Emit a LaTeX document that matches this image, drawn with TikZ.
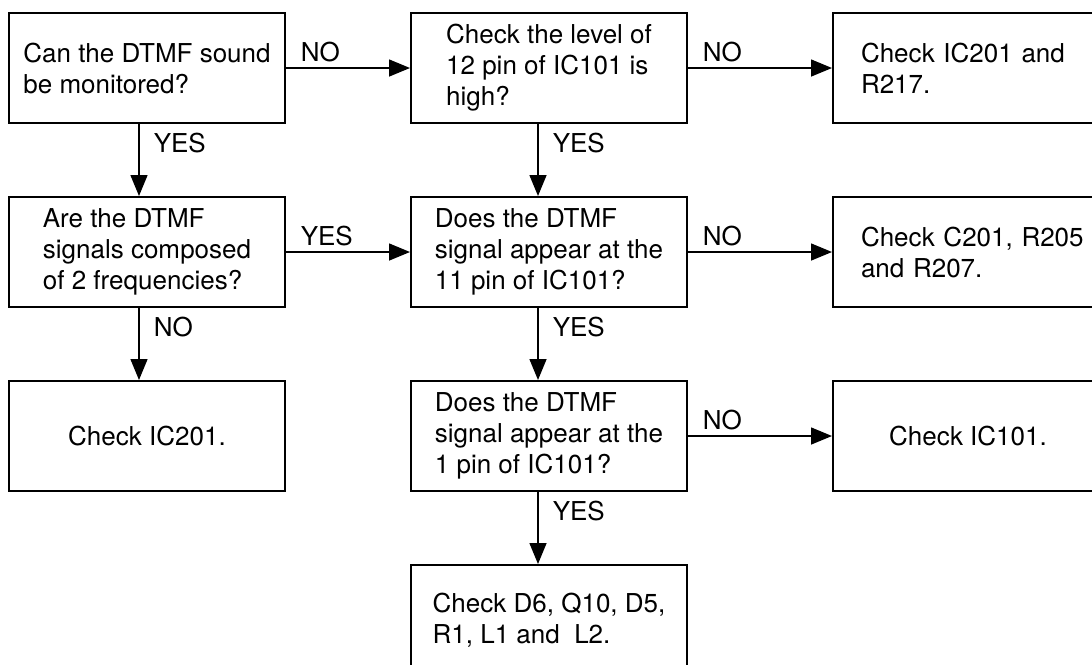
\documentclass[tikz,border=0pt]{standalone}
\usepackage{fontspec}
\setmainfont{TeX Gyre Heros}
\usetikzlibrary{positioning, arrows.meta}

\begin{document}
\begin{tikzpicture}[node distance=28.8pt]
	% Node style
	\tikzstyle{block} = [rectangle, draw=black, line width=0.8pt, minimum width=110.4pt, minimum height=44pt, align=left, font=\fontsize{10.4pt}{12.4pt}\selectfont]
	\tikzstyle{wideblock} = [block, text width=96pt, inner xsep=11.2pt]
	\tikzstyle{flow} = [-{Triangle[length=8.4pt, width=6.8pt]}, line width=0.6pt]
	\tikzstyle{lbl} = [font=\fontsize{10.4pt}{12.4pt}\selectfont, inner xsep=5.6pt, inner ysep=2pt]

	\useasboundingbox (0,0) rectangle (436.8pt,-265.6pt);

	% Nodes
	\node[block, anchor=north west] (monitor) at (3.2pt,-4.8pt) {Can the DTMF sound\\be monitored?};
	\node[block, below=of monitor] (freq) {Are the DTMF\\signals composed\\of 2 frequencies?};
	\node[block, below=of freq, align=center] (ic201) {Check IC201.};

	\node[block, right=49.6pt of monitor] (level) {Check the level of\\12 pin of IC101 is\\high?};
	\node[block, below=of level] (pin11) {Does the DTMF\\signal appear at the\\11 pin of IC101?};
	\node[block, below=of pin11] (pin1) {Does the DTMF\\signal appear at the\\1 pin of IC101?};
	\node[block, below=of pin1] (diodes) {Check D6, Q10, D5,\\R1, L1 and~~L2.};

	\node[wideblock, right=57.6pt of level] (r217) {Check IC201 and\\R217.};
	\node[wideblock, right=57.6pt of pin11] (r207) {Check C201, R205\\and R207.};
	\node[block, minimum width=108pt, align=center, right=57.6pt of pin1] (ic101) {Check IC101.};

	% Arrows
	\draw[flow] (monitor) -- node[lbl, pos=0, anchor=south west] {NO} (level);
	\draw[flow] (level) -- node[lbl, pos=0, anchor=south west] {NO} (r217);
	\draw[flow] (freq) -- node[lbl, pos=0, anchor=south west] {YES} (pin11);
	\draw[flow] (pin11) -- node[lbl, pos=0, anchor=south west] {NO} (r207);
	\draw[flow] (pin1) -- node[lbl, pos=0, anchor=south west] {NO} (ic101);
	\draw[flow] ([xshift=-3.2pt]monitor.south) -- node[lbl, right, pos=0.27] {YES} ([xshift=-3.2pt]freq.north);
	\draw[flow] ([xshift=-3.2pt]freq.south) -- node[lbl, right, pos=0.27] {NO} ([xshift=-3.2pt]ic201.north);
	\draw[flow] ([xshift=-4.4pt]level.south) -- node[lbl, right, pos=0.27] {YES} ([xshift=-4.4pt]pin11.north);
	\draw[flow] ([xshift=-4.4pt]pin11.south) -- node[lbl, right, pos=0.27] {YES} ([xshift=-4.4pt]pin1.north);
	\draw[flow] ([xshift=-4.4pt]pin1.south) -- node[lbl, right, pos=0.27] {YES} ([xshift=-4.4pt]diodes.north);
\end{tikzpicture}
\end{document}
